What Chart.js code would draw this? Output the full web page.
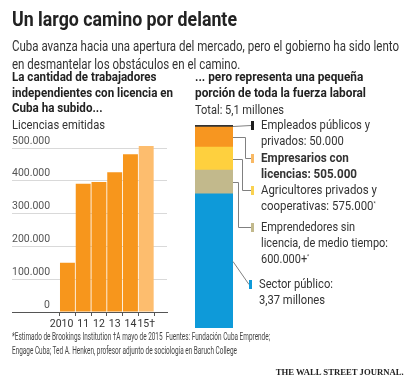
<!DOCTYPE html>
<html>
<head>
<meta charset="utf-8">
<script src="https://cdn.jsdelivr.net/npm/chart.js@4/dist/chart.umd.min.js"></script>
<style>
  html, body { margin: 0; padding: 0; background: #fff; }
  #page { position: relative; width: 420px; height: 382px; overflow: hidden;
    font-family: Roboto, "Noto Sans", sans-serif; color: #333; }
  canvas { position: absolute; left: 0; top: 0; }
  .t { position: absolute; white-space: nowrap; transform-origin: left top; }
  .title { left: 12px; top: 8px; font-size: 19.5px; font-weight: bold; color: #222; }
  .sub { left: 12px; top: 37px; font-size: 14px; line-height: 18px; }
  .head { font-size: 13px; font-weight: bold; line-height: 15.5px; color: #222; }
  .lbl { left: 261px; font-size: 13px; line-height: 16px; }
  .foot { left: 12px; top: 330px; font-size: 10px; line-height: 14px; color: #444; }
  .wsj { right: 16px; top: 367px; font-family: "Liberation Serif", "DejaVu Serif", serif;
    font-size: 9px; font-weight: bold; color: #222; transform-origin: right top; }
  sup { font-size: 6px; line-height: 0; vertical-align: baseline; position: relative; top: -5px; }
</style>
</head>
<body>
<div id="page">
  <canvas id="licChart" width="420" height="382"></canvas>
  <canvas id="laborChart" width="420" height="382"></canvas>

  <div class="t title" data-w="225">Un largo camino por delante</div>
  <div class="t sub" data-w="387">Cuba avanza hacia una apertura del mercado, pero el gobierno ha sido lento<br>en desmantelar los obstáculos en el camino.</div>

  <div class="t head" data-w="161" style="left:12px; top:69px;">La cantidad de trabajadores<br>independientes con licencia en<br>Cuba ha subido...</div>
  <div class="t" data-w="93" style="left:12px; top:117px; font-size:13px;">Licencias emitidas</div>

  <div class="t head" data-w="171" style="left:195px; top:69px;">... pero representa una pequeña<br>porción de toda la fuerza laboral</div>
  <div class="t" data-w="89" style="left:195px; top:102px; font-size:12.5px;">Total: 5,1 millones</div>

  <div class="t lbl" data-w="109" style="top:117px;">Empleados públicos y<br>privados: 50.000</div>
  <div class="t lbl" data-w="96" style="top:150px; font-weight:bold;">Empresarios con<br>licencias: 505.000</div>
  <div class="t lbl" data-w="116" style="top:182px;">Agricultores privados y<br>cooperativas: 575.000<sup>*</sup></div>
  <div class="t lbl" data-w="127" style="top:219px;">Emprendedores sin<br>licencia, de medio tiempo:<br>600.000+<sup>*</sup></div>
  <div class="t lbl" data-w="74" style="left:259px; top:276px;">Sector público:<br>3,37 millones</div>

  <div class="t foot" data-w="258">*Estimado de Brookings Institution †A mayo de 2015&nbsp; Fuentes: Fundación Cuba Emprende;<br>Engage Cuba; Ted A. Henken, profesor adjunto de sociología en Baruch College</div>
  <div class="t wsj" data-w="128">THE WALL STREET JOURNAL.</div>
</div>

<script>
// Licencias emitidas por año
const years = [2010, 2011, 2012, 2013, 2014, 2015];
const yearLabels = ['2010\u2007\u2007', '11', '12', '13', '14', '15†'];
const licencias = [150000, 391000, 396000, 426000, 481000, 506000];
const yTicks = [0, 100000, 200000, 300000, 400000, 500000];
const yTickLabels = ['0', '100.000', '200.000', '300.000', '400.000', '500.000'];

// Fuerza laboral (millones), de abajo hacia arriba
const sectores = ['Sector público', 'Emprendedores sin licencia', 'Agricultores privados y cooperativas', 'Empresarios con licencias', 'Empleados públicos y privados'];
const millones = [3.37, 0.6, 0.575, 0.505, 0.05];
const totalMillones = 5.1;

const ORANGE = 'rgb(247, 150, 28)';
const ORANGE_LIGHT = 'rgb(253, 189, 110)';
const sectorColors = ['rgb(14, 154, 217)', 'rgb(194, 185, 140)', 'rgb(254, 208, 62)', 'rgb(247, 150, 32)', 'rgb(51, 51, 51)'];
const markerColors = ['rgb(14, 154, 217)', 'rgb(194, 185, 140)', 'rgb(250, 210, 80)', 'rgb(249, 185, 100)', 'rgb(30, 30, 30)'];

// where each legend label sits (layout only)
const labelY = [284, 227, 190, 158, 125];
const elbowX = [null, 238, 242, 245, null];

const FONT = 'Roboto, "Noto Sans", sans-serif';

const yLabelsPlugin = {
    id: 'yLabels',
    afterDraw(chart) {
        const ctx = chart.ctx;
        const y = chart.scales.y;
        ctx.save();
        ctx.font = '10.5px ' + FONT;
        ctx.fillStyle = '#555';
        ctx.textBaseline = 'middle';
        yTicks.forEach((v, i) => {
            const py = y.getPixelForValue(v);
            if (v === 0) {
                ctx.textAlign = 'right';
                ctx.fillText(yTickLabels[i], 50, py - 7);
            } else {
                ctx.textAlign = 'left';
                ctx.fillText(yTickLabels[i], 12, py - 7);
            }
        });
        ctx.restore();
    }
};

new Chart(document.getElementById('licChart'), {
    type: 'bar',
    data: {
        datasets: [{
            data: years.map((yr, i) => ({ x: yr, y: licencias[i] })),
            backgroundColor: years.map((yr, i) => i === years.length - 1 ? ORANGE_LIGHT : ORANGE),
            borderWidth: 0,
            categoryPercentage: 1,
            barPercentage: 0.947
        }]
    },
    options: {
        responsive: false,
        animation: false,
        layout: { padding: { left: 12, right: 253, top: 131.6, bottom: 50 } },
        plugins: { legend: { display: false }, tooltip: { enabled: false } },
        scales: {
            x: {
                type: 'linear',
                min: 2007.3,
                max: 2015.5,
                afterBuildTicks: (s) => { s.ticks = years.map(v => ({ value: v })); },
                afterFit: (s) => { s.height = 20; },
                ticks: {
                    callback: (v, i) => yearLabels[i],
                    color: '#333',
                    padding: 2,
                    maxRotation: 0,
                    autoSkip: false,
                    font: { size: 10.5, family: FONT }
                },
                grid: { drawOnChartArea: false, drawTicks: true, tickLength: 4, tickColor: '#555' },
                border: { color: '#555', width: 1 }
            },
            y: {
                min: 0,
                max: 550000,
                afterBuildTicks: (s) => { s.ticks = yTicks.map(v => ({ value: v })); },
                afterFit: (s) => { s.width = 0; },
                ticks: { display: false },
                grid: {
                    drawTicks: false,
                    color: (c) => c.tick && c.tick.value === 0 ? '#555' : '#d9d9d9'
                },
                border: { display: false }
            }
        }
    },
    plugins: [yLabelsPlugin]
});

const connectorPlugin = {
    id: 'connectors',
    afterDraw(chart) {
        const ctx = chart.ctx;
        const y = chart.scales.y;
        const right = chart.chartArea.right;
        ctx.save();
        ctx.strokeStyle = '#808080';
        ctx.lineWidth = 1;
        let cum = 0;
        millones.forEach((v, i) => {
            const mid = Math.round(y.getPixelForValue(cum + v / 2)) + 0.5;
            cum += v;
            const ly = labelY[i] + 0.5;
            const mx = i === 0 ? 249 : 251;
            ctx.beginPath();
            ctx.moveTo(right, mid);
            if (elbowX[i] !== null) {
                ctx.lineTo(elbowX[i] + 0.5, mid);
                ctx.lineTo(elbowX[i] + 0.5, ly);
            }
            ctx.lineTo(mx, ly);
            ctx.stroke();
            ctx.fillStyle = markerColors[i];
            ctx.fillRect(mx, labelY[i] - 4, 3, 9);
        });
        ctx.restore();
    }
};

new Chart(document.getElementById('laborChart'), {
    type: 'bar',
    data: {
        labels: ['Total'],
        datasets: sectores.map((name, i) => ({
            label: name,
            data: [millones[i]],
            backgroundColor: sectorColors[i],
            borderWidth: 0,
            categoryPercentage: 1,
            barPercentage: 1
        }))
    },
    options: {
        responsive: false,
        animation: false,
        layout: { padding: { left: 195, right: 187, top: 125, bottom: 54 } },
        plugins: { legend: { display: false }, tooltip: { enabled: false } },
        scales: {
            x: { stacked: true, display: false },
            y: { stacked: true, display: false, min: 0, max: totalMillones }
        }
    },
    plugins: [connectorPlugin]
});

// squeeze each text block to the width it has in the original
function fitText() {
    document.querySelectorAll('[data-w]').forEach(el => {
        el.style.transform = 'none';
        const w = el.getBoundingClientRect().width;
        el.style.transform = `scaleX(${el.dataset.w / w})`;
    });
}
fitText();
document.fonts.ready.then(fitText);
</script>
</body>
</html>
